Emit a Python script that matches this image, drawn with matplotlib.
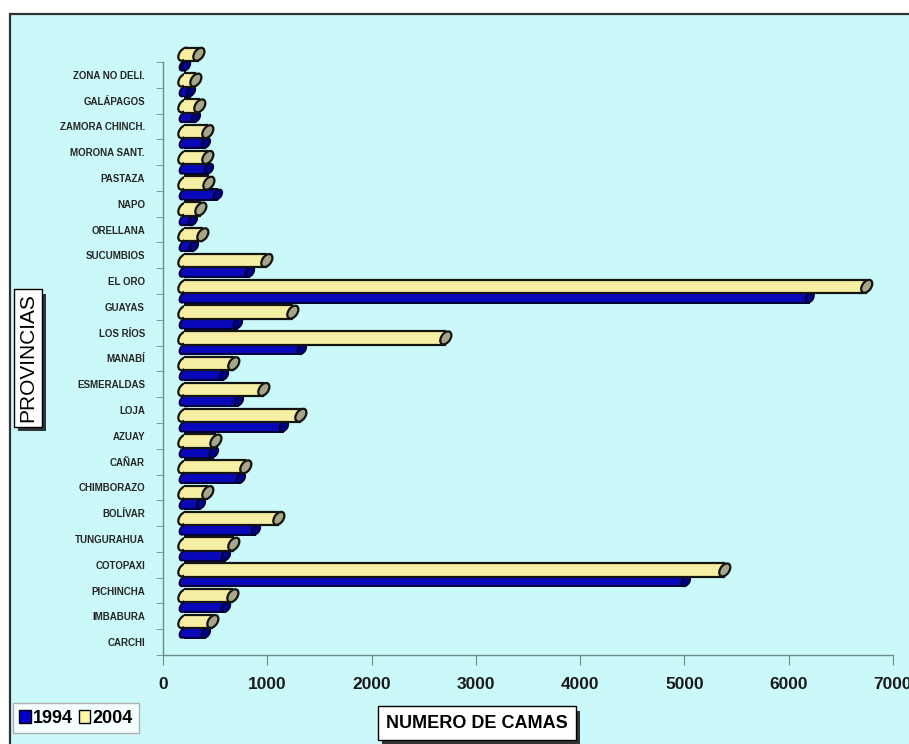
import numpy as np
import matplotlib
matplotlib.use("Agg")
import matplotlib.pyplot as plt
import matplotlib.patches as mpatches
import matplotlib.patheffects as pe
from matplotlib.transforms import ScaledTranslation

plt.rcParams["font.family"] = ["Liberation Sans", "DejaVu Sans"]

# ─────────────────────────────── data ───────────────────────────────────────

provincias = [
    "ZONA NO DELI.", "GALÁPAGOS", "ZAMORA CHINCH.", "MORONA SANT.", "PASTAZA",
    "NAPO", "ORELLANA", "SUCUMBIOS", "EL ORO", "GUAYAS", "LOS RÍOS", "MANABÍ",
    "ESMERALDAS", "LOJA", "AZUAY", "CAÑAR", "CHIMBORAZO", "BOLÍVAR",
    "TUNGURAHUA", "COTOPAXI", "PICHINCHA", "IMBABURA", "CARCHI",
]
camas_1994 = [20, 67, 115, 211, 240, 326, 86, 96, 633, 6000, 518, 1131,
              384, 527, 959, 288, 546, 163, 690, 403, 4813, 403, 211]
camas_2004 = [144, 115, 153, 230, 230, 240, 163, 182, 796, 6548, 1045, 2512,
              479, 767, 1122, 307, 594, 230, 911, 479, 5187, 470, 278]
anios = ["1994", "2004"]
x_ticks = [0, 1000, 2000, 3000, 4000, 5000, 6000, 7000]

# ─────────────────────────────── styling ────────────────────────────────────

DPI = 100
W, H = 909, 744
PANEL = "#CBF9F9"
AXIS_GRAY = "#6E8C8C"
DEPTH_SHIFT = 200          # floor offset of the pseudo-3D bars (beds)

fig = plt.figure(figsize=(W / DPI, H / DPI), dpi=DPI, facecolor="white")

# cyan chart area with a dark frame on top/left (kept behind the axes)
fig.patches.append(mpatches.Rectangle(
    (10 / W, -0.05), 1.0, 1 - 14 / H + 0.05, transform=fig.transFigure,
    facecolor=PANEL, edgecolor="#303030", lw=1.6, zorder=-5))

ax_left, ax_right = 163 / W, 893 / W
ax_bottom, ax_top = 1 - 655 / H, 1 - 62 / H
ax = fig.add_axes([ax_left, ax_bottom, ax_right - ax_left, ax_top - ax_bottom])
ax.patch.set_alpha(0)

n = len(provincias)
ypos = np.arange(n)[::-1].astype(float)     # first province on top
ax.set_xlim(0, 7000)
ax.set_ylim(-0.5, n - 0.5)

band_px = (ax_top - ax_bottom) * H / n


def cylinder_bars(yc, values, height, fill, cap, edge, z, ell_w, lw):
    values = np.asarray(values, dtype=float)
    ax.barh(yc, values, left=DEPTH_SHIFT, height=height, color=fill,
            edgecolor="none", zorder=z, clip_on=False)
    for yy in (yc + height / 2, yc - height / 2):
        ax.hlines(yy, DEPTH_SHIFT, DEPTH_SHIFT + values, color=edge,
                  lw=lw, zorder=z + 0.1, clip_on=False)
    h_in = height * band_px / DPI
    w_in = ell_w / DPI
    for y, v in zip(yc, values):
        for x, face, zz in ((DEPTH_SHIFT, fill, z - 0.5),
                            (DEPTH_SHIFT + v, cap, z + 0.2)):
            ax.add_patch(mpatches.Ellipse(
                (0, 0), width=w_in, height=h_in * 1.08, angle=-35,
                facecolor=face, edgecolor=edge, lw=lw, zorder=zz,
                clip_on=False,
                transform=fig.dpi_scale_trans + ScaledTranslation(x, y, ax.transData)))


# 1994 in front (lower), 2004 behind it (raised by the depth)
cylinder_bars(ypos + 0.36, camas_1994, 0.40, "#0808B8", "#000090", "#000030", 2, 7, 1.4)
cylinder_bars(ypos + 0.80, camas_2004, 0.52, "#F6EEA2", "#A8A688", "#141410", 3, 9, 1.6)

# ─────────────────────────────── axes ───────────────────────────────────────

for side in ("top", "right"):
    ax.spines[side].set_visible(False)
for side in ("left", "bottom"):
    ax.spines[side].set_color(AXIS_GRAY)
    ax.spines[side].set_linewidth(1.0)

ax.set_yticks(ypos)
ax.set_yticklabels(provincias, fontsize=7, fontweight="bold", color="#262626")
ax.set_yticks(np.arange(-0.5, n, 1.0), minor=True)
ax.tick_params(axis="y", which="major", length=0, pad=13)
ax.tick_params(axis="y", which="minor", length=5, color=AXIS_GRAY, direction="out")

ax.set_xticks(x_ticks)
ax.set_xticklabels([str(t) for t in x_ticks], fontsize=12.5, fontweight="bold",
                   color="#1A1A1A")
ax.tick_params(axis="x", length=7, color=AXIS_GRAY, direction="out", pad=9)

# ─────────────────────────────── labels ─────────────────────────────────────

shadow = [pe.withSimplePatchShadow(offset=(3, -3), shadow_rgbFace="#202020", alpha=0.9)]

t_x = fig.text(477 / W, 1 - 723 / H, "NUMERO DE CAMAS", ha="center", va="center",
               fontsize=13, fontweight="bold",
               bbox=dict(boxstyle="square,pad=0.45", facecolor="white",
                         edgecolor="black", lw=1.0))
t_x.get_bbox_patch().set_path_effects(shadow)

t_y = fig.text(28 / W, 1 - 358 / H, "PROVINCIAS", ha="center", va="center",
               rotation=90, fontsize=15,
               bbox=dict(boxstyle="square,pad=0.2", facecolor="white",
                         edgecolor="black", lw=1.0))
t_y.get_bbox_patch().set_path_effects(shadow)

handles = [mpatches.Patch(facecolor="#0000C8", edgecolor="black", label=anios[0]),
           mpatches.Patch(facecolor="#FFF6A8", edgecolor="black", label=anios[1])]
fig.legend(handles=handles, loc="lower left", bbox_to_anchor=(4 / W, 2 / H),
           ncol=2, prop=dict(weight="bold", size=13),
           handlelength=0.65, handleheight=0.75, handletextpad=0.12,
           columnspacing=0.3, frameon=True, fancybox=False, edgecolor="#B0B0B0",
           facecolor="#F4FFFF", framealpha=1, borderpad=0.35)

fig.savefig("out.png", dpi=DPI)
